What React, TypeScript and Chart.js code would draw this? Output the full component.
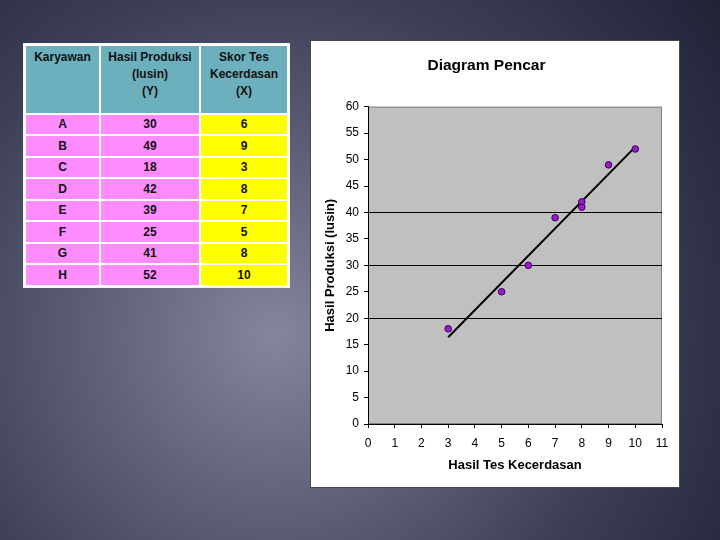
import React, { useEffect, useRef } from "react";
import { Chart, registerables } from "chart.js";

Chart.register(...registerables);

const employees = ["A", "B", "C", "D", "E", "F", "G", "H"];
const production = [30, 49, 18, 42, 39, 25, 41, 52];
const testScores = [6, 9, 3, 8, 7, 5, 8, 10];
const trendX = [3, 10];
const trendY = [16.4, 52.4];
const gridValues = [20, 30, 40];

const FONT = "'Liberation Sans', Arial, sans-serif";

const plotBg = {
  id: "plotBg",
  beforeDraw(chart: any) {
    const { ctx, chartArea } = chart;
    if (!chartArea) return;
    ctx.save();
    ctx.fillStyle = "#C0C0C0";
    ctx.fillRect(chartArea.left, chartArea.top, chartArea.right - chartArea.left, chartArea.bottom - chartArea.top);
    ctx.strokeStyle = "#808080";
    ctx.lineWidth = 1;
    ctx.strokeRect(chartArea.left + 0.5, chartArea.top + 0.5, chartArea.right - chartArea.left - 1, chartArea.bottom - chartArea.top - 1);
    ctx.restore();
  },
};

function ScatterChart() {
  const ref = useRef<HTMLCanvasElement>(null);
  useEffect(() => {
    if (!ref.current) return;
    const points = testScores.map((x, i) => ({ x, y: production[i] }));
    const trend = trendX.map((x, i) => ({ x, y: trendY[i] }));
    const chart = new Chart(ref.current, {
      type: "scatter",
      data: {
        datasets: [
          {
            label: "Trend",
            data: trend,
            showLine: true,
            borderColor: "#000",
            borderWidth: 2,
            pointRadius: 0,
            order: 2,
          },
          {
            label: "Data",
            data: points,
            pointRadius: 3.3,
            pointBackgroundColor: "#9A1ACD",
            pointBorderColor: "#3a0057",
            pointBorderWidth: 1,
            order: 1,
          },
        ],
      },
      options: {
        animation: false,
        responsive: false,
        devicePixelRatio: 1,
        layout: { padding: { left: 0, right: 17, top: 0, bottom: 0 } },
        plugins: {
          legend: { display: false },
          tooltip: { enabled: false },
          title: {
            display: true,
            text: "Diagram Pencar",
            color: "#000",
            font: { family: FONT, size: 15.5, weight: "bold" },
            padding: { top: 15.5, bottom: 31.6 },
          },
        },
        scales: {
          x: {
            type: "linear",
            min: 0,
            max: 11,
            ticks: { stepSize: 1, color: "#000", font: { family: FONT, size: 12 }, padding: 8.5 },
            grid: { drawOnChartArea: false, color: "#000", tickColor: "#000", tickLength: 4 },
            border: { display: true, color: "#000", width: 1 },
            title: {
              display: true,
              text: "Hasil Tes Kecerdasan",
              color: "#000",
              font: { family: FONT, size: 13, weight: "bold" },
              padding: { top: 0, bottom: 14.2 },
            },
            afterFit(scale: any) {
              scale.height = 63;
            },
          },
          y: {
            type: "linear",
            min: 0,
            max: 60,
            ticks: { stepSize: 5, color: "#000", font: { family: FONT, size: 12 }, padding: 5 },
            grid: {
              color: (c: any) => (c.tick && gridValues.includes(c.tick.value) ? "#000" : "rgba(0,0,0,0)"),
              tickColor: "#000",
              tickLength: 4,
            },
            border: { display: true, color: "#000", width: 1 },
            title: {
              display: true,
              text: "Hasil Produksi (lusin)",
              color: "#000",
              font: { family: FONT, size: 13, weight: "bold" },
              padding: { top: 12, bottom: 0 },
            },
            afterFit(scale: any) {
              scale.width = 57;
            },
          },
        },
      },
      plugins: [plotBg],
    } as any);
    return () => chart.destroy();
  }, []);
  return <canvas ref={ref} width={368} height={446} style={{ display: "block", width: 368, height: 446 }} />;
}

const cellBase: React.CSSProperties = {
  fontFamily: FONT,
  fontSize: 12,
  fontWeight: "bold",
  color: "#111",
  textAlign: "center",
  padding: 0,
};

export default function App() {
  const header = ["Karyawan", "Hasil Produksi\n(lusin)\n(Y)", "Skor Tes\nKecerdasan\n(X)"];
  const widths = [73, 98, 86];
  return (
    <div
      style={{
        position: "absolute",
        left: 0,
        top: 0,
        width: 720,
        height: 540,
        overflow: "hidden",
        background:
          "radial-gradient(circle at 38% 62%, #83869c 0%, #62657c 28%, #3c3f56 62%, #202236 100%)",
      }}
    >
      <div
        style={{
          position: "absolute",
          left: 23,
          top: 43,
          padding: 1,
          background: "#f4f4f4",
        }}
      >
        <table style={{ borderCollapse: "separate", borderSpacing: 2, background: "#fff" }}>
          <tbody>
            <tr>
              {header.map((h, i) => (
                <td
                  key={i}
                  style={{
                    ...cellBase,
                    width: widths[i],
                    height: 66.7,
                    background: "#6DB0BD",
                    verticalAlign: "top",
                    whiteSpace: "pre-line",
                    lineHeight: "17px",
                    paddingTop: 3,
                    boxSizing: "border-box",
                  }}
                >
                  {h}
                </td>
              ))}
            </tr>
            {employees.map((e, i) => (
              <tr key={e}>
                <td style={{ ...cellBase, height: 19.5, background: "#FF8CFF" }}>{e}</td>
                <td style={{ ...cellBase, height: 19.5, background: "#FF8CFF" }}>{production[i]}</td>
                <td style={{ ...cellBase, height: 19.5, background: "#FFFF00" }}>{testScores[i]}</td>
              </tr>
            ))}
          </tbody>
        </table>
      </div>
      <div
        style={{
          position: "absolute",
          left: 310,
          top: 40,
          width: 368,
          height: 446,
          border: "1px solid #4a4a4a",
          background: "#fff",
        }}
      >
        <ScatterChart />
      </div>
    </div>
  );
}
